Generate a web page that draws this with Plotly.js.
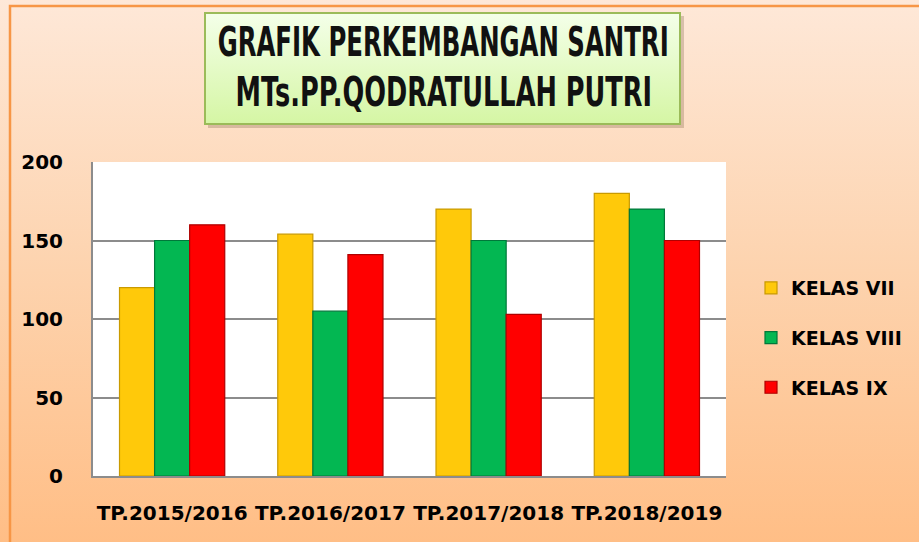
<!DOCTYPE html>
<html>
<head>
<meta charset="utf-8">
<script src="https://cdn.plot.ly/plotly-3.0.1.min.js"></script>
<style>
  html, body { margin: 0; padding: 0; }
  #chart {
    width: 919px; height: 542px;
    background: linear-gradient(to bottom, #FEE8D8 0%, #FDD3AE 50%, #FFBE86 100%);
  }
  .annotation-text {
    transform-box: fill-box;
    transform-origin: center;
    transform: scaleX(0.62);
  }
  .annotation[data-index="0"] .annotation-text { transform: scaleX(0.61); }
  .annotation[data-index="1"] .annotation-text { transform: scaleX(0.64); }
</style>
</head>
<body>
<div id="chart"></div>
<script>
const categories = ["TP.2015/2016", "TP.2016/2017", "TP.2017/2018", "TP.2018/2019"];
const seriesNames = ["KELAS VII", "KELAS VIII", "KELAS IX"];
const kelasVII  = [120, 154, 170, 180];
const kelasVIII = [150, 105, 150, 170];
const kelasIX   = [160, 141, 103, 150];
const yTicks = [0, 50, 100, 150, 200];
const titleLines = ["GRAFIK PERKEMBANGAN SANTRI", "MTs.PP.QODRATULLAH PUTRI"];

const fills = ["#FFC90A", "#03B752", "#FF0000"];
const edges = ["#C99A00", "#00783A", "#B00000"];
const values = [kelasVII, kelasVIII, kelasIX];

const W = 919, H = 542;
const L = 93, R = 726, T = 162, B = 476;
const px = x => (x - L) / (R - L);
const py = y => (B - y) / (B - T);

const traces = values.map((v, i) => ({
  type: "bar",
  name: seriesNames[i],
  legendgroup: "g" + i,
  x: categories,
  y: v,
  marker: { color: fills[i], line: { color: edges[i], width: 1.2 } },
  hoverinfo: "x+y+name"
}));

const gradSvg = '<svg xmlns="http://www.w3.org/2000/svg" width="100" height="100" preserveAspectRatio="none">' +
  '<defs><linearGradient id="g" x1="0" y1="0" x2="0" y2="1">' +
  '<stop offset="0" stop-color="#F4FFE9"/><stop offset="1" stop-color="#D5F6A4"/></linearGradient></defs>' +
  '<rect width="100" height="100" fill="url(#g)"/></svg>';
const gradUri = "data:image/svg+xml;base64," + btoa(gradSvg);

const boxX0 = 205, boxX1 = 680, boxY0 = 13, boxY1 = 124;

const layout = {
  width: W, height: H,
  margin: { l: L, r: W - R, t: T, b: H - B, pad: 0 },
  paper_bgcolor: "rgba(0,0,0,0)",
  plot_bgcolor: "#FFFFFF",
  barmode: "group",
  bargap: 0.335,
  bargroupgap: 0,
  showlegend: true,
  legend: {
    x: px(751), xanchor: "left",
    y: py(338), yanchor: "middle",
    bgcolor: "rgba(0,0,0,0)",
    font: { family: "DejaVu Sans", size: 19, color: "#000", weight: "bold" },
    tracegroupgap: 22,
    itemclick: false, itemdoubleclick: false
  },
  xaxis: {
    type: "category",
    showgrid: false,
    showline: true, linecolor: "#8C8C8C", linewidth: 2,
    ticks: "",
    ticklabelstandoff: 18,
    tickfont: { family: "DejaVu Sans", size: 20, color: "#000", weight: "bold" },
    fixedrange: true
  },
  yaxis: {
    range: [0, 200],
    tickvals: yTicks,
    ticktext: yTicks.map(String),
    showgrid: true, gridcolor: "#8C8C8C", gridwidth: 2,
    showline: true, linecolor: "#8C8C8C", linewidth: 2,
    zeroline: false,
    ticks: "",
    ticklabelstandoff: 24,
    tickfont: { family: "DejaVu Sans", size: 20, color: "#000", weight: "bold" },
    fixedrange: true
  },
  images: [{
    source: gradUri, xref: "paper", yref: "paper",
    x: px(boxX0), y: py(boxY0), sizex: px(boxX1) - px(boxX0), sizey: py(boxY0) - py(boxY1),
    xanchor: "left", yanchor: "top", sizing: "stretch", layer: "above"
  }],
  shapes: [
    { type: "rect", xref: "paper", yref: "paper", x0: px(10), x1: px(930), y0: py(6), y1: py(560),
      line: { color: "#F79646", width: 2.5 }, fillcolor: "rgba(0,0,0,0)", layer: "below" },
    { type: "rect", xref: "paper", yref: "paper", x0: px(boxX0 + 3), x1: px(boxX1 + 4), y0: py(boxY0 + 3), y1: py(boxY1 + 4),
      line: { width: 0 }, fillcolor: "rgba(120,90,60,0.28)", layer: "below" },
    { type: "rect", xref: "paper", yref: "paper", x0: px(boxX0), x1: px(boxX1), y0: py(boxY0), y1: py(boxY1),
      line: { color: "#9BBB59", width: 2 }, fillcolor: "rgba(0,0,0,0)", layer: "above" }
  ],
  annotations: titleLines.map((t, i) => ({
    text: t, xref: "paper", yref: "paper",
    x: px(443), y: py(i === 0 ? 43 : 93), xanchor: "center", yanchor: "middle",
    showarrow: false,
    font: { family: "DejaVu Sans", size: 40, color: "#111", weight: "bold", stretch: "condensed" }
  })),
  hovermode: "closest"
};

Plotly.newPlot("chart", traces, layout, { displayModeBar: false });
</script>
</body>
</html>
